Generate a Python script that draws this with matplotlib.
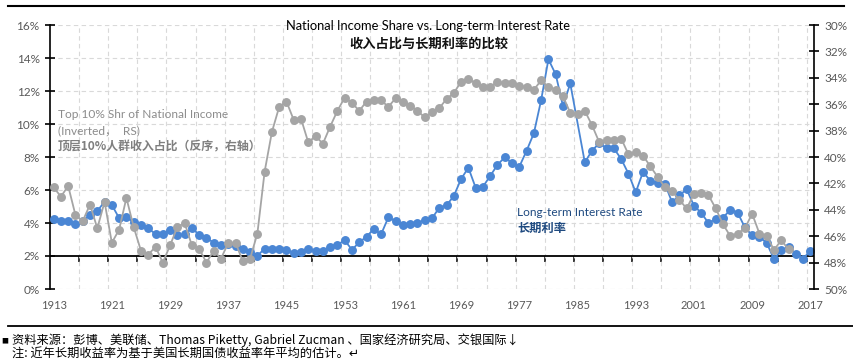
import numpy as np
import matplotlib
matplotlib.use("Agg")
import matplotlib.pyplot as plt
from matplotlib.lines import Line2D

# ---------------- data ----------------
years = list(range(1913, 2018))

interest_rate = [
    4.22, 4.12, 4.14, 3.92, 4.12, 4.48, 4.73, 5.29, 5.09, 4.30,   # 1913-1922
    4.34, 4.06, 3.86, 3.68, 3.33, 3.33, 3.58, 3.27, 3.31, 3.68,   # 1923-1932
    3.29, 3.09, 2.81, 2.69, 2.75, 2.62, 2.40, 2.26, 2.02, 2.44,   # 1933-1942
    2.44, 2.44, 2.36, 2.18, 2.24, 2.42, 2.30, 2.30, 2.56, 2.68,   # 1943-1952
    2.95, 2.38, 2.83, 3.17, 3.64, 3.31, 4.34, 4.12, 3.88, 3.92,   # 1953-1962
    4.00, 4.18, 4.28, 4.93, 5.07, 5.64, 6.67, 7.35, 6.14, 6.20,   # 1963-1972
    6.85, 7.53, 7.98, 7.62, 7.41, 8.38, 9.44, 11.45, 13.92, 13.01,  # 1973-1982
    11.09, 12.46, np.nan, 7.68, 8.39, 8.84, 8.52, 8.52, 7.88, 6.99,  # 1983-1992
    5.86, 7.09, 6.57, 6.42, 6.38, 5.25, 5.68, 6.04, 5.05, 4.61,   # 1993-2002
    4.00, 4.24, 4.33, 4.80, 4.63, 3.73, 3.25, 3.16, 2.79, 1.81,   # 2003-2012
    2.36, 2.53, 2.14, 1.84, 2.32,                                 # 2013-2017
]

top10_years = list(range(1913, 2015))
top10_share = [
    42.3, 43.0, 42.2, 44.4, 44.85, 43.6, 45.4, 43.4, 46.5, 45.5,   # 1913-1922
    43.1, 45.3, 47.1, 47.4, 46.8, 48.0, 46.7, 45.3, 45.0, 46.7,    # 1923-1932
    46.95, 48.0, 47.1, 47.7, 46.5, 46.5, 47.9, 47.7, 45.8, 41.1,   # 1933-1942
    38.1, 36.2, 35.8, 37.2, 37.1, 38.9, 38.4, 39.0, 37.7, 36.5,    # 1943-1952
    35.5, 35.9, 36.5, 35.8, 35.7, 35.7, 36.2, 35.55, 35.8, 36.1,   # 1953-1962
    36.5, 37.0, 36.6, 36.3, 35.6, 35.15, 34.3, 34.1, 34.4, 34.7,   # 1963-1972
    34.7, 34.3, 34.4, 34.4, 34.6, 34.7, 34.9, 34.2, 34.7, 34.9,    # 1973-1982
    35.4, 36.65, 36.75, 36.5, 37.6, 38.9, 38.7, 38.7, 38.6, 39.8,  # 1983-1992
    39.6, 39.9, 40.7, 41.5, 42.3, 42.6, 43.25, 43.9, 42.8, 42.7,   # 1993-2002
    42.9, 43.9, 45.1, 46.0, 45.8, 45.4, 44.3, 45.8, 45.95, 47.05,  # 2003-2012
    46.3, 47.0,                                                    # 2013-2014
]

left_ticks = [0, 2, 4, 6, 8, 10, 12, 14, 16]
right_ticks = [30, 32, 34, 36, 38, 40, 42, 44, 46, 48, 50]
x_label_years = list(range(1913, 2018, 8))
axis_cross = 2  # horizontal axis crosses the left axis at 2%

# ---------------- style ----------------
W, H = 854, 360
BLUE = "#4a86d4"
GRAY = "#a5a5a5"
TICKC = "#595959"
LAT = ["Lato", "Noto Sans CJK SC", "DejaVu Sans"]
CJK = ["Noto Sans CJK SC", "DejaVu Sans"]

def fx(x):
    return x / W

def fy(y):
    return 1 - y / H

fig = plt.figure(figsize=(W / 100, H / 100), dpi=100)
fig.patch.set_facecolor("white")

ax_l, ax_r, ax_t, ax_b = 50, 814, 25, 289
ax = fig.add_axes([fx(ax_l), fy(ax_b), (ax_r - ax_l) / W, (ax_b - ax_t) / H])
ax.set_facecolor("none")

yrs = np.array(years, dtype=float)
ir = np.array(interest_rate, dtype=float)
ok = ~np.isnan(ir)
ax.plot(yrs[ok], ir[ok], color=BLUE, lw=1.3, marker="o", ms=5.4,
        mec=BLUE, mfc=BLUE, zorder=3)

ax.set_xlim(1912.5, 2017.5)
ax.set_ylim(0, 16)
ax.set_yticks(left_ticks)
ax.set_yticklabels([f"{v}%" for v in left_ticks])
ax.set_xticks(x_label_years)
ax.set_xticklabels([str(y) for y in x_label_years])
boundaries = [y + 0.5 for y in range(1916, 2017, 4)]
ax.set_xticks(boundaries, minor=True)

ax.grid(True, axis="y", which="major", color="#d9d9d9", ls=(0, (4, 3)), lw=0.8)
ax.grid(True, axis="x", which="minor", color="#d9d9d9", ls=(0, (4, 3)), lw=0.8)
ax.set_axisbelow(True)
for val, gl in zip(left_ticks, ax.get_ygridlines()):
    if val == axis_cross:
        gl.set_visible(False)

for s in ("top", "bottom", "right"):
    ax.spines[s].set_visible(False)
ax.spines["left"].set_color("black")
ax.spines["left"].set_linewidth(1.2)
ax.tick_params(axis="y", direction="inout", length=7, width=1.2,
               colors="black", labelcolor=TICKC, labelsize=8.5, pad=4)
ax.tick_params(axis="x", which="both", length=0, labelcolor=TICKC,
               labelsize=8, pad=8)
for lab in ax.get_yticklabels() + ax.get_xticklabels():
    lab.set_family(LAT)

# horizontal axis line crossing at 2%
ax.axhline(axis_cross, color="black", lw=1.3, zorder=2)
sec = ax.secondary_xaxis(axis_cross / 16)
sec.set_xticks(boundaries)
sec.tick_params(direction="out", length=4, width=1.1, labelbottom=False,
                colors="black")
sec.spines["bottom"].set_visible(False)

# right axis
ax2 = ax.twinx()
ax2.plot(top10_years, top10_share, color=GRAY, lw=1.3, marker="o", ms=5.4,
         mec=GRAY, mfc=GRAY, zorder=3)
ax2.set_ylim(50, 30)
ax2.set_yticks(right_ticks)
ax2.set_yticklabels([f"{v}%" for v in right_ticks])
for s in ("top", "bottom", "left"):
    ax2.spines[s].set_visible(False)
ax2.spines["right"].set_color("black")
ax2.spines["right"].set_linewidth(1.2)
ax2.tick_params(axis="y", direction="inout", length=7, width=1.2,
                colors="black", labelcolor=TICKC, labelsize=8.5, pad=4)
for lab in ax2.get_yticklabels():
    lab.set_family(LAT)

# titles
fig.text(fx(428), fy(26), "National Income Share vs. Long-term Interest Rate",
         ha="center", va="center", fontsize=9.3, family=LAT, color="black")
fig.text(fx(429), fy(43.5), "收入占比与长期利率的比较",
         ha="center", va="center", fontsize=9.5, family=CJK,
         fontweight="bold", color="#111111")

# gray annotation
fig.text(fx(58), fy(115), "Top 10% Shr of National Income", ha="left",
         va="center", fontsize=8.6, family=LAT, color="#8c8c8c")
fig.text(fx(58), fy(131), "(Inverted，  RS)", ha="left",
         va="center", fontsize=8.6, family=LAT, color="#8c8c8c")
fig.text(fx(58), fy(147), "顶层10%人群收入占比（反序，右轴）", ha="left",
         va="center", fontsize=8.6, family=CJK, fontweight="bold",
         color="#7f7f7f")

# blue annotation
fig.text(fx(517), fy(212), "Long-term Interest Rate", ha="left",
         va="center", fontsize=8.6, family=LAT, color="#1f4a80")
fig.text(fx(517), fy(228), "长期利率", ha="left",
         va="center", fontsize=8.8, family=CJK, fontweight="bold",
         color="#1f4a80")

# decorative page lines
fig.add_artist(Line2D([fx(8), fx(844)], [fy(6), fy(6)], color="black", lw=1.5))
fig.add_artist(Line2D([fx(8), fx(854)], [fy(326), fy(326)], color="black", lw=1.3))

# footnotes
fig.text(fx(1), fy(341), "■", ha="left", va="center", fontsize=5,
         family=CJK, color="black")
fig.text(fx(12), fy(340),
         "资料来源：彭博、美联储、Thomas Piketty, Gabriel Zucman 、国家经济研究局、交银国际↓",
         ha="left", va="center", fontsize=8.8, family=CJK, color="black")
fig.text(fx(12), fy(353.5),
         "注: 近年长期收益率为基于美国长期国债收益率年平均的估计。↵",
         ha="left", va="center", fontsize=8.8, family=CJK, color="black")

fig.savefig("out.png", dpi=100, facecolor="white")
